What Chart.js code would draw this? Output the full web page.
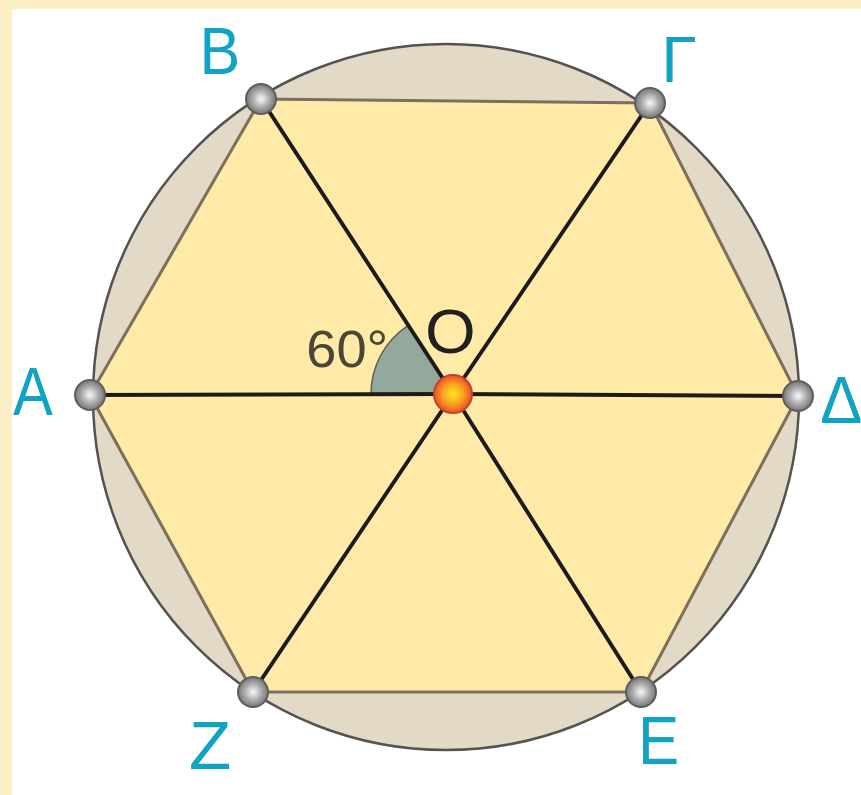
<!DOCTYPE html>
<html>
<head>
<meta charset="utf-8">
<script src="https://cdn.jsdelivr.net/npm/chart.js@4/dist/chart.umd.min.js"></script>
<style>
  html, body { margin: 0; padding: 0; background: #fff; }
  canvas { display: block; }
</style>
</head>
<body>
<canvas id="hexagono" width="861" height="795"></canvas>
<script>
// vertices of the inscribed hexagon (picture units, y grows downwards)
const vertexNames = ['Α', 'Β', 'Γ', 'Δ', 'Ε', 'Ζ'];
const vertexX = [90, 261, 650, 798, 641, 253];
const vertexY = [395, 99, 103, 396, 692, 692];

const centreName = 'O';
const centrePoint = [453, 394];

const circleCentre = [446, 397];
const circleRadius = 353;

const angleLabel = '60°';

const pt = (i) => ({ x: vertexX[i], y: vertexY[i] });
const O = { x: centrePoint[0], y: centrePoint[1] };

const hexagonData = [0, 1, 2, 3, 4, 5, 0].map(pt);
const diameters = [[0, 3], [1, 4], [2, 5]];

function dotGradient(c, inner, mid, outer, r) {
  const ch = c.chart;
  if (!ch.chartArea || !c.raw) return mid;
  const x = ch.scales.x.getPixelForValue(c.raw.x);
  const y = ch.scales.y.getPixelForValue(c.raw.y);
  const g = ch.ctx.createRadialGradient(x, y, 1, x, y, r);
  g.addColorStop(0, inner);
  g.addColorStop(0.55, mid);
  g.addColorStop(1, outer);
  return g;
}

const datasets = [
  {
    label: 'hexagon',
    data: hexagonData,
    showLine: true,
    fill: 'shape',
    backgroundColor: '#ffeaa8',
    borderColor: '#7b705a',
    borderWidth: 3,
    pointRadius: 0,
    order: 10,
  },
];

diameters.forEach(([a, b]) => {
  datasets.push({
    label: 'diameter',
    data: [pt(a), O, pt(b)],
    showLine: true,
    fill: false,
    borderColor: '#1f1a1a',
    borderWidth: 4,
    pointRadius: 0,
    order: 5,
  });
});

datasets.push({
  label: 'vertices',
  data: vertexX.map((x, i) => pt(i)),
  showLine: false,
  pointRadius: 15,
  pointBorderWidth: 2,
  pointBorderColor: '#5e5e5e',
  pointBackgroundColor: (c) => dotGradient(c, '#f0f0f0', '#a9a9a9', '#777777', 15),
  order: 2,
});

datasets.push({
  label: 'centre',
  data: [O],
  showLine: false,
  pointRadius: 19,
  pointBorderWidth: 2,
  pointBorderColor: '#c0442a',
  pointBackgroundColor: (c) => dotGradient(c, '#ffe022', '#f8a020', '#ef5a24', 18),
  order: 1,
});

const geometryPlugin = {
  id: 'geometry',
  beforeDraw(chart) {
    const ctx = chart.ctx;
    ctx.save();
    ctx.fillStyle = '#ffffff';
    ctx.fillRect(0, 0, chart.width, chart.height);
    ctx.fillStyle = '#fcefc5';
    ctx.fillRect(0, 0, chart.width, 9);
    ctx.fillRect(0, 0, 12, chart.height);
    ctx.restore();
  },
  beforeDatasetsDraw(chart) {
    const ctx = chart.ctx;
    const xs = chart.scales.x, ys = chart.scales.y;
    const cx = xs.getPixelForValue(circleCentre[0]);
    const cy = ys.getPixelForValue(circleCentre[1]);
    const r = xs.getPixelForValue(circleCentre[0] + circleRadius) - cx;
    ctx.save();
    ctx.beginPath();
    ctx.arc(cx, cy, r, 0, Math.PI * 2);
    ctx.fillStyle = '#e2dac7';
    ctx.fill();
    ctx.lineWidth = 2.5;
    ctx.strokeStyle = '#555250';
    ctx.stroke();
    ctx.restore();
  },
  afterDatasetDraw(chart, args, opts) {
    if (args.index !== 0) return;
    // the 60° angle between OA and OB
    const ctx = chart.ctx;
    const xs = chart.scales.x, ys = chart.scales.y;
    const ox = xs.getPixelForValue(O.x), oy = ys.getPixelForValue(O.y);
    const ax = xs.getPixelForValue(vertexX[0]), ay = ys.getPixelForValue(vertexY[0]);
    const bx = xs.getPixelForValue(vertexX[1]), by = ys.getPixelForValue(vertexY[1]);
    const a1 = Math.atan2(ay - oy, ax - ox);
    let a2 = Math.atan2(by - oy, bx - ox);
    if (a2 < a1) a2 += Math.PI * 2;
    ctx.save();
    ctx.beginPath();
    ctx.moveTo(ox, oy);
    ctx.arc(ox, oy, opts.wedgeRadius, a1, a2, false);
    ctx.closePath();
    ctx.fillStyle = '#93a99b';
    ctx.fill();
    ctx.beginPath();
    ctx.arc(ox, oy, opts.wedgeRadius, a1, a2, false);
    ctx.lineWidth = 1.5;
    ctx.strokeStyle = '#5d5f50';
    ctx.stroke();
    ctx.restore();
  },
  afterDatasetsDraw(chart, args, opts) {
    const ctx = chart.ctx;
    const xs = chart.scales.x, ys = chart.scales.y;

    function fitText(text, cx, cy, w, h, color) {
      ctx.save();
      ctx.font = '100px "Liberation Sans", Arial, sans-serif';
      ctx.textAlign = 'left';
      ctx.textBaseline = 'alphabetic';
      const m = ctx.measureText(text);
      const bw = m.actualBoundingBoxLeft + m.actualBoundingBoxRight;
      const bh = m.actualBoundingBoxAscent + m.actualBoundingBoxDescent;
      ctx.translate(cx, cy);
      ctx.scale(w / bw, h / bh);
      ctx.fillStyle = color;
      ctx.fillText(text, -bw / 2 + m.actualBoundingBoxLeft, bh / 2 - m.actualBoundingBoxDescent);
      ctx.restore();
    }

    vertexNames.forEach((name, i) => {
      const l = opts.vertexLabels[i];
      const x = xs.getPixelForValue(vertexX[i]) + l.dx;
      const y = ys.getPixelForValue(vertexY[i]) + l.dy;
      fitText(name, x, y, l.w, l.h, '#12a2c2');
    });

    const ox = xs.getPixelForValue(O.x), oy = ys.getPixelForValue(O.y);
    fitText(centreName, ox - 3, oy - 63, 45, 45, '#221f1f');
    fitText(angleLabel, ox - 106, oy - 45, 76, 37, '#4a4536');
  },
};

new Chart(document.getElementById('hexagono'), {
  type: 'scatter',
  data: { datasets },
  options: {
    responsive: false,
    animation: false,
    events: [],
    layout: { padding: 0, autoPadding: false },
    scales: {
      x: { type: 'linear', min: 0, max: 861, display: false },
      y: { type: 'linear', min: 0, max: 795, reverse: true, display: false },
    },
    plugins: {
      legend: { display: false },
      tooltip: { enabled: false },
      geometry: {
        wedgeRadius: 82,
        vertexLabels: [
          { dx: -57, dy: -4, w: 40, h: 47 },
          { dx: -40, dy: -48, w: 33, h: 46 },
          { dx: 31, dy: -43, w: 29, h: 46 },
          { dx: 43, dy: 4, w: 39, h: 46 },
          { dx: 19, dy: 48, w: 34, h: 47 },
          { dx: -43, dy: 53, w: 38, h: 47 },
        ],
      },
    },
  },
  plugins: [geometryPlugin],
});
</script>
</body>
</html>
